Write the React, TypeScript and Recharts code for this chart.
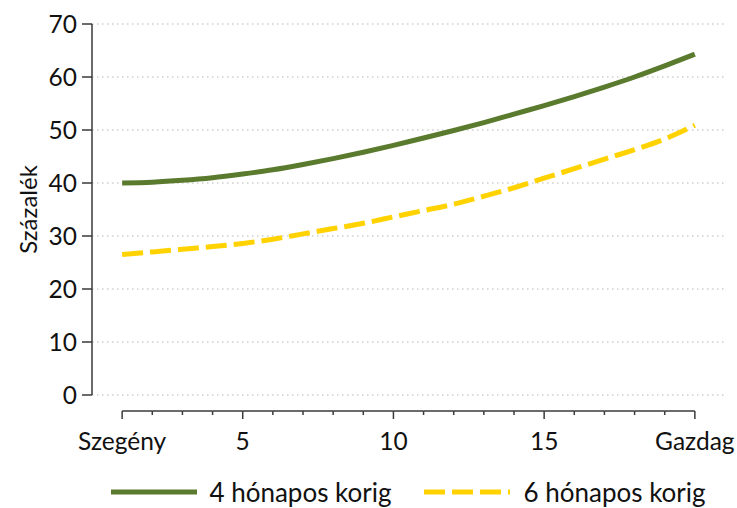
import { LineChart, Line, XAxis, YAxis, CartesianGrid, Legend } from 'recharts';

// income ventiles: 1 = poorest ("Szegény"), 20 = richest ("Gazdag")
const positions = [1, 2, 3, 4, 5, 6, 7, 8, 9, 10, 11, 12, 13, 14, 15, 16, 17, 18, 19, 20];
const fourMonths = [40.0, 40.15, 40.5, 41.0, 41.7, 42.5, 43.5, 44.6, 45.8, 47.1, 48.5, 49.9, 51.4, 53.0, 54.6, 56.3, 58.1, 60.0, 62.1, 64.3];
const sixMonths = [26.5, 27.0, 27.5, 28.0, 28.6, 29.4, 30.4, 31.4, 32.4, 33.6, 34.8, 36.0, 37.5, 39.1, 40.9, 42.7, 44.5, 46.3, 48.3, 50.9];
const seriesNames = ['4 hónapos korig', '6 hónapos korig'];
const yTicks = [0, 10, 20, 30, 40, 50, 60, 70];
const majorTicks = [1, 5, 10, 15, 20];
const xTickLabels: Record<number, string> = { 1: 'Szegény', 5: '5', 10: '10', 15: '15', 20: 'Gazdag' };

const colors = {
  green: '#5a7b2e',
  yellow: '#ffd200',
  axis: '#3a3a3a',
  grid: '#b5b5b5',
  text: '#111111',
};

const FONT = 'Lato, "Open Sans", sans-serif';
const CHART_W = 737;
const CHART_H = 508;
const MARGIN = { top: 24, right: 12, bottom: 0, left: 0 };
const Y_AXIS_W = 92;
const LEGEND_H = 32;
const X_DOMAIN: [number, number] = [0, 21];
const DASH = '21 7';

const data = positions.map((k, i) => ({ k, four: fourMonths[i], six: sixMonths[i] }));

// pixel distance between two neighbouring integer positions
const plotWidth = CHART_W - MARGIN.left - MARGIN.right - Y_AXIS_W;
const unitPx = plotWidth / (X_DOMAIN[1] - X_DOMAIN[0]);

const XTick = (props: any) => {
  const { x, y, payload } = props;
  const v = payload.value as number;
  const major = majorTicks.includes(v);
  return (
    <g>
      {v < positions[positions.length - 1] && (
        <line x1={x} y1={y} x2={x + unitPx} y2={y} stroke={colors.axis} strokeWidth={1.5} />
      )}
      <line x1={x} y1={y} x2={x} y2={y + (major ? 8 : 4)} stroke={colors.axis} strokeWidth={1.5} />
      {major && (
        <text x={x} y={y + 39} textAnchor="middle" fontSize={24.5} fontFamily={FONT} fill={colors.text}>
          {xTickLabels[v]}
        </text>
      )}
    </g>
  );
};

const LegendContent = () => (
  <div
    style={{
      height: LEGEND_H,
      display: 'flex',
      alignItems: 'center',
      justifyContent: 'center',
      paddingLeft: Y_AXIS_W + 12,
      paddingRight: MARGIN.right,
      boxSizing: 'border-box',
      fontFamily: FONT,
      fontSize: 26,
      color: colors.text,
      whiteSpace: 'nowrap',
    }}
  >
    <svg width={86} height={10} style={{ marginRight: 12 }}>
      <line x1={0} y1={5} x2={86} y2={5} stroke={colors.green} strokeWidth={5} />
    </svg>
    <span style={{ marginRight: 32 }}>{seriesNames[0]}</span>
    <svg width={86} height={10} style={{ marginRight: 14 }}>
      <line x1={0} y1={5} x2={86} y2={5} stroke={colors.yellow} strokeWidth={5} strokeDasharray={DASH} />
    </svg>
    <span>{seriesNames[1]}</span>
  </div>
);

export default function App() {
  return (
    <div style={{ position: 'absolute', left: 0, top: 0, background: '#fff' }}>
      <LineChart width={CHART_W} height={CHART_H} data={data} margin={MARGIN}>
        <CartesianGrid horizontal vertical={false} stroke={colors.grid} strokeDasharray="1.5 3.5" />
        <XAxis
          dataKey="k"
          type="number"
          domain={X_DOMAIN}
          ticks={positions}
          interval={0}
          height={113 - LEGEND_H}
          axisLine={false}
          tickLine={false}
          tickSize={0}
          tickMargin={16}
          tick={<XTick />}
        />
        <YAxis
          domain={[0, 70]}
          ticks={yTicks}
          width={Y_AXIS_W}
          interval={0}
          axisLine={{ stroke: colors.axis, strokeWidth: 1.5 }}
          tickLine={{ stroke: colors.axis, strokeWidth: 1.5 }}
          tickSize={10}
          tickMargin={5}
          tick={{ fontSize: 24.5, fontFamily: FONT, fill: colors.text }}
          label={({ viewBox }: any) => (
            <text
              x={27}
              y={viewBox.y + viewBox.height / 2}
              transform={`rotate(-90 27 ${viewBox.y + viewBox.height / 2})`}
              textAnchor="middle"
              dominantBaseline="central"
              fontSize={24}
              fontFamily={FONT}
              fill={colors.text}
            >
              Százalék
            </text>
          )}
        />
        <Line
          type="monotone"
          dataKey="four"
          name={seriesNames[0]}
          stroke={colors.green}
          strokeWidth={5}
          dot={false}
          isAnimationActive={false}
        />
        <Line
          type="monotone"
          dataKey="six"
          name={seriesNames[1]}
          stroke={colors.yellow}
          strokeWidth={5}
          strokeDasharray={DASH}
          dot={false}
          isAnimationActive={false}
        />
        <Legend verticalAlign="bottom" content={<LegendContent />} />
      </LineChart>
    </div>
  );
}
